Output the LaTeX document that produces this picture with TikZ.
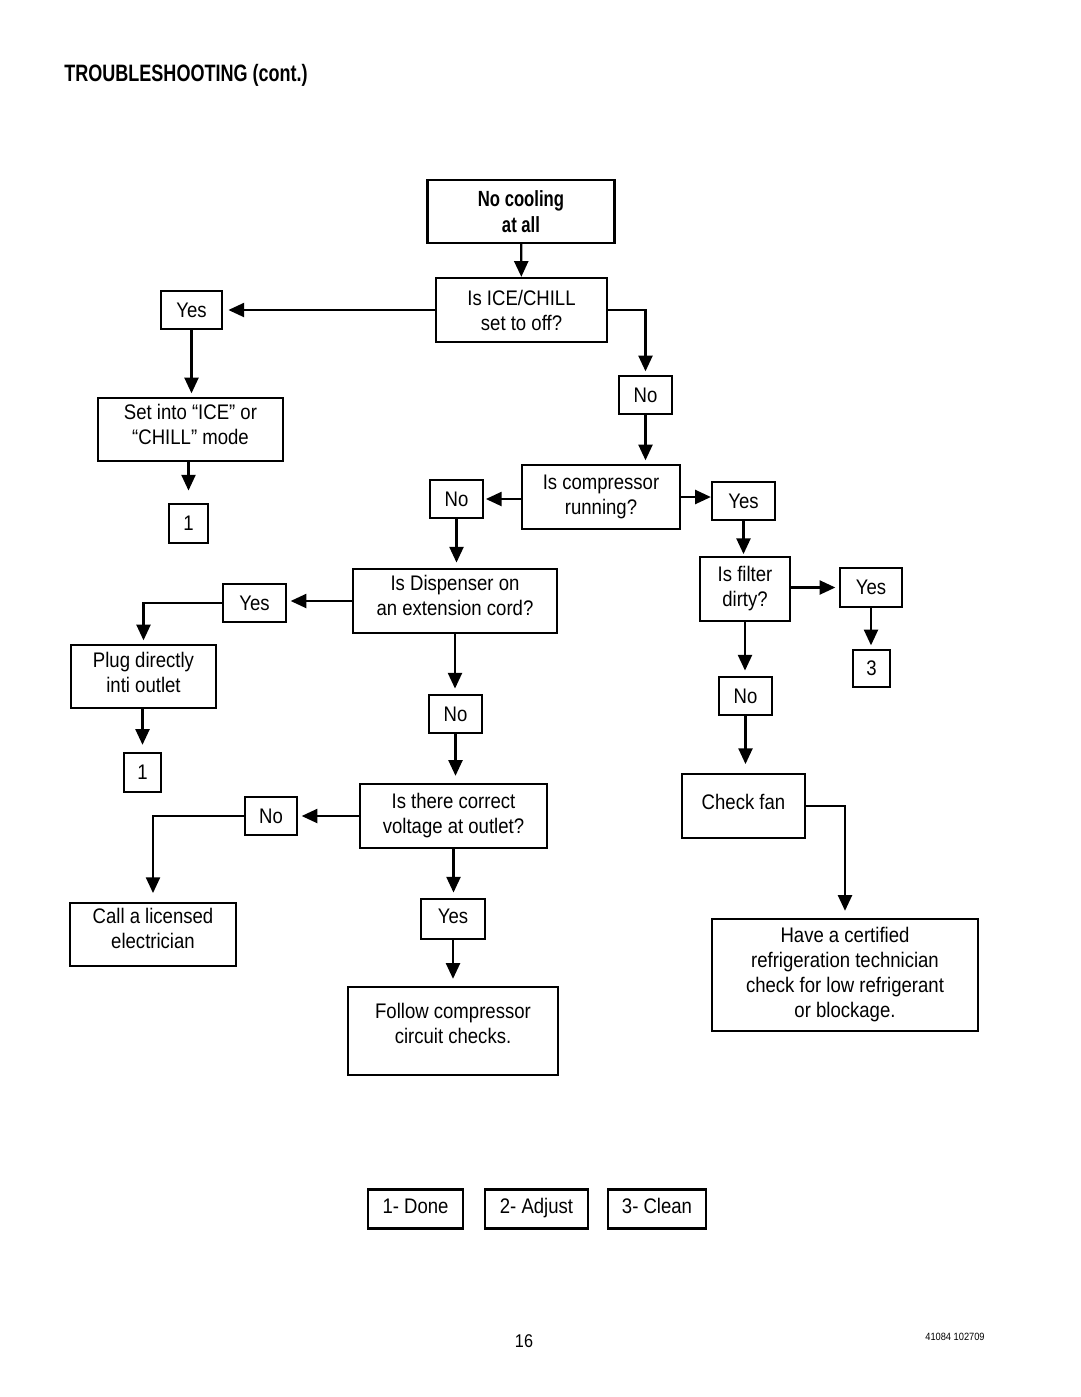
\documentclass[tikz,border=0pt]{standalone}
\usepackage{fontspec}
\setmainfont{Liberation Sans}[FakeStretch=0.88]
\newfontfamily\headfont{Liberation Sans}[FakeStretch=0.76]
\usepackage{tikz}
\usetikzlibrary{arrows.meta}
\usepackage{xcolor}

\tikzset{
  box/.style={draw, line width=1.3pt, inner sep=0pt, align=center,
    font=\fontsize{12}{14.2}\selectfont},
  flow/.style={line width=1.3pt, -{Triangle[length=9pt,width=8pt]}}
}

\begin{document}
\begin{tikzpicture}[x=0.02cm, y=-0.02cm]
  \useasboundingbox (0,0) rectangle (1080,1397);
  \node[anchor=west, inner sep=0pt, font=\headfont\fontsize{13.5}{16}\selectfont\bfseries] (title) at (64,75) {TROUBLESHOOTING (cont.)};

  \node[box, minimum width=3.74cm, minimum height=1.26cm, font=\headfont\fontsize{12.5}{14.5}\selectfont\bfseries] (start) at (521,211.5) {No cooling\\at all};
  \node[box, minimum width=3.42cm, minimum height=1.28cm] (ice) at (521.5,310) {Is ICE/CHILL\\set to off?};
  \node[box, minimum width=1.22cm, minimum height=0.76cm] (yesA) at (191.5,310) {Yes};
  \node[box, minimum width=3.70cm, minimum height=1.26cm, text depth=0.2cm] (setmode) at (190.5,429.5) {Set into “ICE” or\\“CHILL” mode};
  \node[box, minimum width=0.78cm, minimum height=0.78cm] (oneA) at (188.5,523.5) {1};
  \node[box, minimum width=1.06cm, minimum height=0.76cm] (noA) at (645.5,395) {No};

  \node[box, minimum width=3.16cm, minimum height=1.28cm] (comp) at (601,497) {Is compressor\\running?};
  \node[box, minimum width=1.06cm, minimum height=0.76cm] (noB) at (456.5,499) {No};
  \node[box, minimum width=1.26cm, minimum height=0.76cm] (yesB) at (743.5,501) {Yes};

  \node[box, minimum width=4.08cm, minimum height=1.28cm, text depth=0.24cm] (disp) at (455,601) {Is Dispenser on\\an extension cord?};
  \node[box, minimum width=1.26cm, minimum height=0.76cm] (yesC) at (254.5,603) {Yes};
  \node[box, minimum width=2.90cm, minimum height=1.26cm, text depth=0.18cm] (plug) at (143.5,676.5) {Plug directly\\inti outlet};
  \node[box, minimum width=0.74cm, minimum height=0.78cm] (oneB) at (142.5,772.5) {1};
  \node[box, minimum width=1.06cm, minimum height=0.76cm] (noC) at (455.5,714) {No};

  \node[box, minimum width=3.74cm, minimum height=1.28cm] (volt) at (453.5,816) {Is there correct\\voltage at outlet?};
  \node[box, minimum width=1.04cm, minimum height=0.76cm] (noD) at (271,816) {No};
  \node[box, minimum width=3.32cm, minimum height=1.26cm, text depth=0.24cm] (call) at (153,934.5) {Call a licensed\\electrician};
  \node[box, minimum width=1.28cm, minimum height=0.80cm, text depth=0.1cm] (yesD) at (453,919) {Yes};
  \node[box, minimum width=4.20cm, minimum height=1.76cm, text depth=0.3cm] (follow) at (453,1031) {Follow compressor\\circuit checks.};

  \node[box, minimum width=1.80cm, minimum height=1.28cm] (filt) at (745,589) {Is filter\\dirty?};
  \node[box, minimum width=1.24cm, minimum height=0.78cm] (yesE) at (871,587.5) {Yes};
  \node[box, minimum width=0.74cm, minimum height=0.74cm] (three) at (871.5,668.5) {3};
  \node[box, minimum width=1.06cm, minimum height=0.76cm] (noE) at (745.5,696) {No};
  \node[box, minimum width=2.46cm, minimum height=1.28cm, text depth=0.15cm] (fan) at (743.5,806) {Check fan};
  \node[box, minimum width=5.32cm, minimum height=2.24cm, text depth=0.12cm] (cert) at (845,975) {Have a certified\\refrigeration technician\\check for low refrigerant\\or blockage.};

  \foreach \x/\w/\name/\txt in {415.5/1.90/done/1- Done, 536.5/2.06/adjust/2- Adjust, 657/1.96/clean/3- Clean} {
    \node[box, minimum width=\w cm, minimum height=0.78cm, text height=0.3cm, text depth=0.12cm] (\name) at (\x,1209) {\txt};
  }

  \node[font=\fontsize{10.5}{12}\selectfont] (page) at (524,1341) {16};
  \node[font=\fontsize{6}{7}\selectfont] (docno) at (955,1337) {41084 102709};

  \draw[flow] (start) -- (ice);
  \draw[flow, shorten >=3pt] (ice.west) -- (yesA.east);
  \draw[flow, shorten >=2pt] (yesA) -- (yesA |- setmode.north);
  \draw[flow, shorten >=7pt] (oneA |- setmode.south) -- (oneA.north);
  \draw[flow, shorten >=2pt] (ice.east) -| (noA.north);
  \draw[flow, shorten >=2pt] (noA) -- (noA |- comp.north);
  \draw[flow, shorten >=1pt] (comp.west |- noB) -- (noB.east);
  \draw[flow] (comp.east) -- (comp.east -| yesB.west);
  \draw[flow, shorten >=3pt] (noB) -- (noB |- disp.north);
  \draw[flow, shorten >=1pt] (yesB) -- (yesB |- filt.north);
  \draw[flow, shorten >=2pt] (disp.west) -- (disp.west -| yesC.east);
  \draw[flow, shorten >=2pt] (yesC.west) -| (plug.north);
  \draw[flow, shorten >=4pt] (oneB |- plug.south) -- (oneB.north);
  \draw[flow, shorten >=3pt] (disp) -- (disp |- noC.north);
  \draw[flow, shorten >=4pt] (noC) -- (noC |- volt.north);
  \draw[flow, shorten >=2pt] (volt.west) -- (noD.east);
  \draw[flow, shorten >=5pt] (noD.west) -| (call.north);
  \draw[flow, shorten >=3pt] (volt) -- (volt |- yesD.north);
  \draw[flow, shorten >=4pt] (yesD) -- (follow.north);
  \draw[flow, shorten >=2pt] (filt.east |- yesE) -- (yesE.west);
  \draw[flow, shorten >=2pt] (yesE) -- (yesE |- three.north);
  \draw[flow, shorten >=3pt] (filt) -- (filt |- noE.north);
  \draw[flow, shorten >=5pt] (noE) -- (noE |- fan.north);
  \draw[flow, shorten >=4pt] (fan.east) -| (cert.north);
\end{tikzpicture}
\end{document}
